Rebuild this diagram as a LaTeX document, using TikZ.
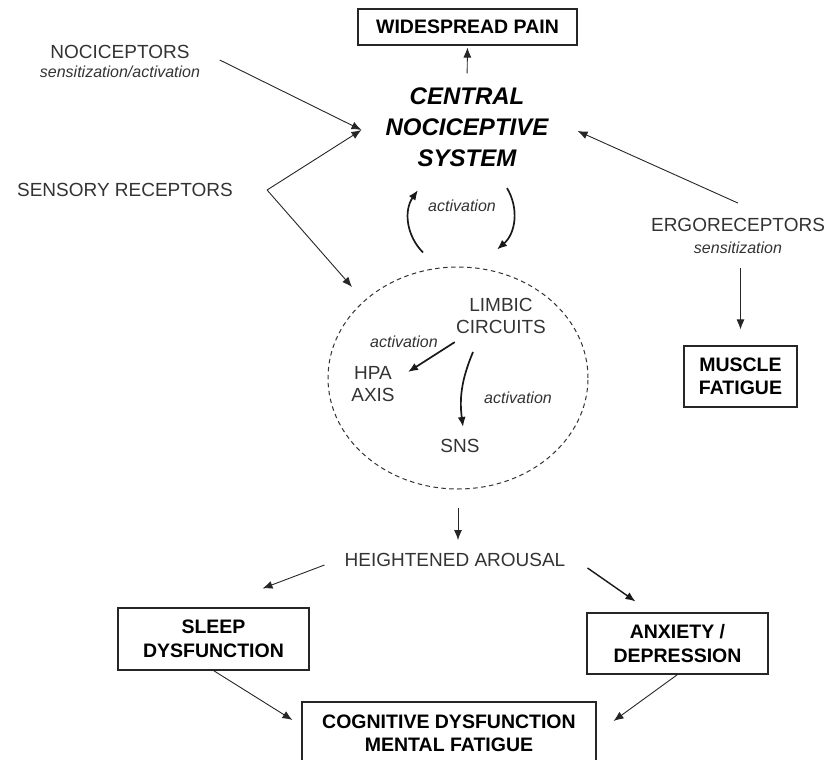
\documentclass[tikz,border=0pt]{standalone}
\usepackage{fontspec}
\setmainfont{Liberation Sans}
\def\actv{activation}
\def\sens{sensitization}
\usetikzlibrary{arrows.meta,shapes.geometric}
\begin{document}
\begin{tikzpicture}[x=1pt,y=1pt,
				box/.style={draw=black!85,line width=1.1pt,align=center,inner sep=0pt,font=\bfseries\fontsize{19.5}{23.5}\selectfont},
				lab/.style={align=center,inner sep=4pt,text=black!80,font=\fontsize{19}{22}\selectfont},
				sub/.style={inner sep=4pt,text=black!80,font=\itshape\fontsize{16}{18}\selectfont},
				arr/.style={draw=black!85,line width=0.9pt,-{Latex[length=10pt,width=8pt]}},
				thk/.style={draw=black!90,line width=1.7pt,-{Latex[length=10pt,width=8pt]}}]
				\useasboundingbox (0,0) rectangle (830,-760);
				\node [box,minimum width=219pt,minimum height=36pt] (Pain) at (467.5,-27) {WIDESPREAD PAIN};
				\node [align=center,inner sep=4pt,font=\bfseries\itshape\fontsize{24}{31}\selectfont] (CNS) at (467,-127) {CENTRAL\\NOCICEPTIVE\\SYSTEM};
					\draw [arr,shorten <=10pt,shorten >=2pt] (CNS.north) -- (Pain.south);
				\node [lab] (Noci) at (120,-52) {NOCICEPTORS};
					\node [sub] (NociSub) at (120,-72) {\sens/\actv};
				\node [lab] (Sens) at (125,-190) {SENSORY RECEPTORS};
				\node [lab] (Ergo) at (738,-225) {ERGORECEPTORS};
					\node [sub] (ErgoSub) at (738,-248) {\sens};
				\node [box,minimum width=113pt,minimum height=61pt] (Muscle) at (740.5,-376.5) {MUSCLE\\FATIGUE};
				\draw [arr] ([shift={(26,-8)}]Noci.east) -- ([shift={(-20,-3)}]CNS.west);
				\draw [arr] ([xshift=30pt]Sens.east) -- ([shift={(-20,-3)}]CNS.west);
				\draw [arr] ([yshift=11pt]Ergo.north) -- ([shift={(25,-4)}]CNS.east);
				\draw [arr,shorten <=10pt,shorten >=16pt] (Muscle.north |- ErgoSub.south) -- (Muscle.north);
				\node [ellipse,draw=black!80,line width=1pt,dash pattern=on 4.5pt off 3.5pt,minimum width=260pt,minimum height=222pt] (Limb) at (458,-378) {};
				\draw [arr] ([xshift=30pt]Sens.east) -- ([shift={(-106,91)}]Limb.center);
				\draw [thk] ([shift={(-35,14)}]Limb.north) to [bend left=40] ([shift={(-49,-19.4)}]CNS.south);
				\draw [thk] ([shift={(40,-17.4)}]CNS.south) to [bend left=40] ([shift={(39,17)}]Limb.north);
					\node [sub] (ActCNS) at (462,-206) {\actv};
				\node [lab] (Limbic) at (501,-316) {LIMBIC\\CIRCUITS};
				\node [lab] (HPA) at (373,-384) {HPA\\AXIS};
				\node [lab] (SNS) at (460,-446) {SNS};
				\draw [thk] ([shift={(2.8,-4.2)}]Limbic.south west) -- ([shift={(35,12)}]HPA.center);
					\node [sub] (ActHPA) at (404,-342) {\actv};
				\draw [thk] ([shift={(-28,-36)}]Limbic.center) to [bend right=15] ([shift={(3,19)}]SNS.center);
					\node [sub] (ActSNS) at (518,-398) {\actv};
				\node [lab] (Arousal) at (455,-560) {HEIGHTENED AROUSAL};
				\draw [arr,shorten <=18pt,shorten >=9pt] (Limb.south) -- (Limb.south |- Arousal.north);
				\node [box,minimum width=191pt,minimum height=62pt] (Sleep) at (213.5,-639) {SLEEP\\DYSFUNCTION};
				\node [box,minimum width=181pt,minimum height=61pt] (Anx) at (677.5,-643.5) {ANXIETY /\\DEPRESSION};
				\node [box,minimum width=294pt,minimum height=63pt] (Cog) at (449,-733.5) {COGNITIVE DYSFUNCTION\\MENTAL FATIGUE};
				\draw [arr] ([shift={(-16,-5)}]Arousal.west) -- ([shift={(49,19)}]Sleep.north);
				\draw [thk,line width=1.4pt] ([shift={(18,-8)}]Arousal.east) -- ([shift={(-42,11)}]Anx.north);
				\draw [arr] (Sleep.south) -- ([shift={(-9,13.5)}]Cog.west);
				\draw [arr] (Anx.south) -- ([shift={(17,12.5)}]Cog.east);
			\end{tikzpicture}
\end{document}
